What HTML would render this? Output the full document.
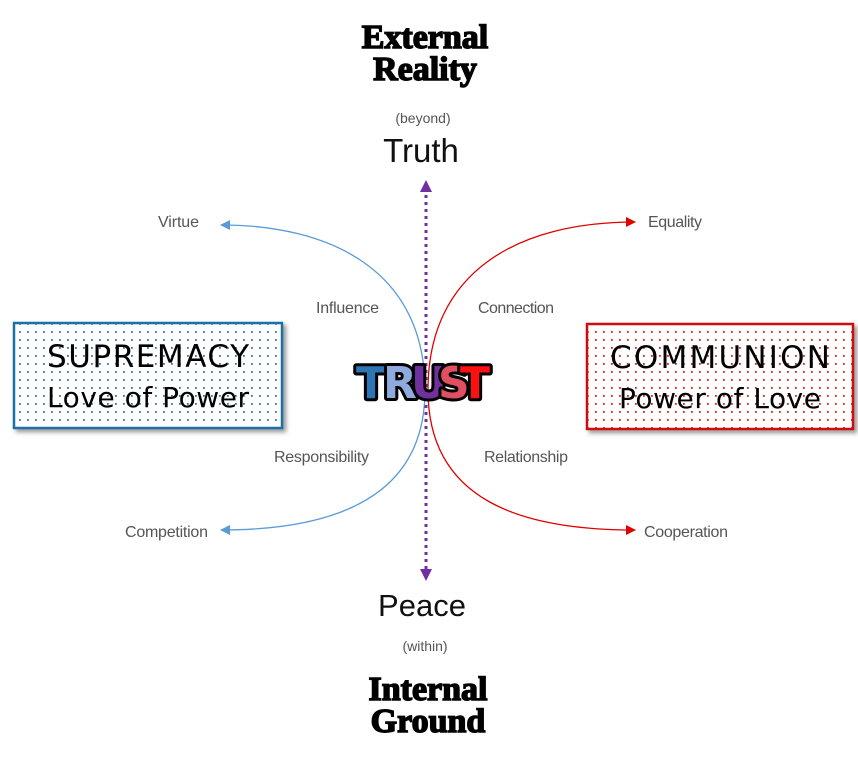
<!DOCTYPE html>
<html><head><meta charset="utf-8"><style>
body{margin:0;background:#fff;}
svg{display:block}
</style></head><body>
<svg width="858" height="763" viewBox="0 0 858 763" xmlns="http://www.w3.org/2000/svg">
<defs>
<pattern id="db" width="8" height="8" patternUnits="userSpaceOnUse"><rect x="3" y="3" width="1.8" height="1.8" fill="#2e75b6"/></pattern>
<pattern id="dr" width="8" height="8" patternUnits="userSpaceOnUse"><rect x="3" y="3" width="1.8" height="1.8" fill="#e02020"/></pattern>
<filter id="sh" x="-10%" y="-10%" width="130%" height="130%"><feDropShadow dx="3" dy="3" stdDeviation="2" flood-color="#555" flood-opacity="0.6"/></filter>
<marker id="ab" markerWidth="10" markerHeight="10" refX="9" refY="5" orient="auto" markerUnits="userSpaceOnUse"><path d="M0,0 L10,5 L0,10z" fill="#5b9bd5"/></marker>
<marker id="ar" markerWidth="10" markerHeight="10" refX="9" refY="5" orient="auto" markerUnits="userSpaceOnUse"><path d="M0,0 L10,5 L0,10z" fill="#e00000"/></marker>
</defs>
<g font-family="'Liberation Serif',serif" font-weight="bold" text-anchor="middle" fill="#000" stroke="#000" stroke-width="1.5">
<text x="425" y="48" font-size="34">External</text>
<text x="425" y="80" font-size="34">Reality</text>
<text x="428" y="700" font-size="34">Internal</text>
<text x="428" y="732" font-size="34">Ground</text>
</g>
<g font-family="'Liberation Sans',sans-serif" text-anchor="middle">
<text x="423" y="123" font-size="14" fill="#555">(beyond)</text>
<text x="421" y="162" font-size="33" fill="#111">Truth</text>
<text x="422" y="616" font-size="31" fill="#111">Peace</text>
<text x="425" y="651" font-size="14" fill="#555">(within)</text>
</g>
<g font-family="'Liberation Sans Narrow','Liberation Sans',sans-serif" font-size="16" fill="#555">
<text x="158" y="227" textLength="41">Virtue</text>
<text x="316" y="313" textLength="63">Influence</text>
<text x="274" y="462" textLength="95">Responsibility</text>
<text x="125" y="537" textLength="83">Competition</text>
<text x="648" y="227" textLength="54">Equality</text>
<text x="478" y="313" textLength="76">Connection</text>
<text x="484" y="462" textLength="84">Relationship</text>
<text x="644" y="537" textLength="84">Cooperation</text>
</g>
<path d="M425,390 C425,270 330,225 221,225" fill="none" stroke="#5b9bd5" stroke-width="1.3" marker-end="url(#ab)"/>
<path d="M425,390 C425,500 330,530 221,530" fill="none" stroke="#5b9bd5" stroke-width="1.3" marker-end="url(#ab)"/>
<path d="M428,390 C428,270 520,222 635,222" fill="none" stroke="#e00000" stroke-width="1.3" marker-end="url(#ar)"/>
<path d="M428,390 C428,500 520,530 635,530" fill="none" stroke="#e00000" stroke-width="1.3" marker-end="url(#ar)"/>
<line x1="426" y1="188" x2="426" y2="572" stroke="#7030a0" stroke-width="3" stroke-dasharray="3,4"/>
<path d="M420,192 L426,180 L432,192z" fill="#7030a0"/>
<path d="M420,569 L426,581 L432,569z" fill="#7030a0"/>
<g filter="url(#sh)">
<rect x="14" y="323" width="268" height="105" fill="#fff" stroke="#1f6fa8" stroke-width="2.5"/>
<rect x="587" y="324" width="266" height="105" fill="#fff" stroke="#d01010" stroke-width="2.5"/>
</g>
<rect x="15" y="324" width="266" height="103" fill="url(#db)"/>
<rect x="588" y="325" width="264" height="103" fill="url(#dr)"/>
<g font-family="'DejaVu Sans',sans-serif" text-anchor="middle" fill="#000">
<text x="148" y="367" font-size="31" textLength="202">SUPREMACY</text>
<text x="148" y="407" font-size="28" textLength="202">Love of Power</text>
<text x="720" y="368" font-size="31" textLength="220">COMMUNION</text>
<text x="720" y="408" font-size="28" textLength="202">Power of Love</text>
</g>
<g font-family="'DejaVu Sans',sans-serif" font-weight="bold" font-size="44" stroke="#000" stroke-width="6" paint-order="stroke" stroke-linejoin="round">
<text x="356" y="398" fill="#2e75b6">T</text>
<text x="383" y="398" fill="#8faadc">R</text>
<text x="411" y="398" fill="#7030a0">U</text>
<text x="438" y="398" fill="#e05060">S</text>
<text x="460" y="398" fill="#ff1010">T</text>
</g>
</svg>
</body></html>
